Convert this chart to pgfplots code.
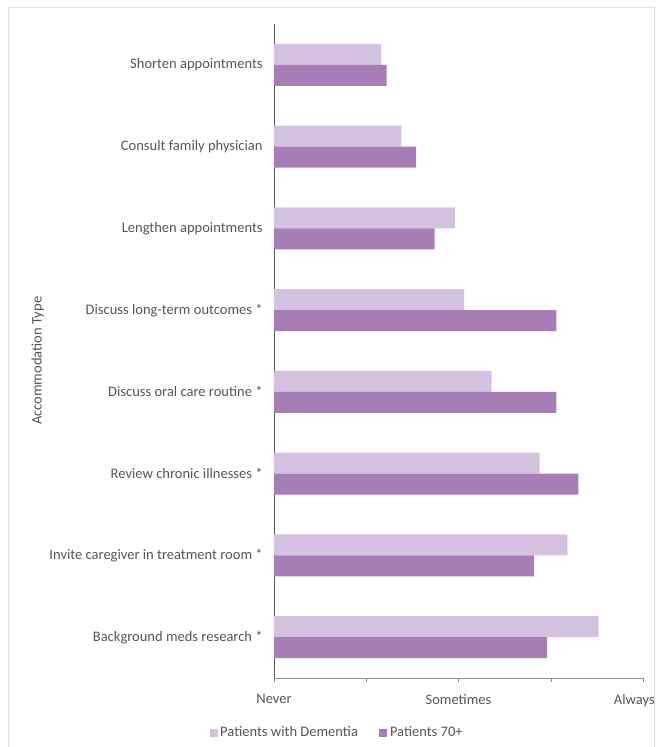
\documentclass[border=0pt]{standalone}
\usepackage{pgfplots}
\pgfplotsset{compat=1.18}
\usepackage{fontspec}
\setmainfont{Carlito}
\definecolor{lightp}{HTML}{D4C1DF}
\definecolor{darkp}{HTML}{A77DB8}
\definecolor{txt}{HTML}{555555}
\pgfplotstableread{
y light dark
0 2.76 2.48
1 2.59 2.41
2 2.44 2.65
3 2.18 2.53
4 2.03 2.53
5 1.98 1.87
6 1.69 1.77
7 1.58 1.61
}\datatab
\begin{document}
\begin{tikzpicture}
\path[use as bounding box] (-205.5pt,-51.75pt) rectangle (290.25pt,508.5pt);
\draw[black!12] (-199.5pt,-60pt) -- (-199.5pt,503.25pt) -- (285pt,503.25pt) -- (285pt,-60pt);
\begin{axis}[
  at={(0,0)}, anchor=south west,
  scale only axis, width=276.75pt, height=490.5pt,
  xmin=1, xmax=3, ymin=-0.5, ymax=7.5,
  axis x line*=bottom, axis y line*=left,
  x axis line style={-, draw=black!45},
  y axis line style={-, draw=black!65},
  xtick={1,2,3}, xticklabels={Never,Sometimes,{\makebox[0pt]{\hspace*{-13pt}Always}}},
  minor xtick={1.5,2.5},
  tick align=outside,
  major tick length=3pt, minor tick length=3pt,
  xtick style={draw=black!45},
  minor tick style={draw=black!45},
  ytick={0,...,7},
  yticklabels={Background meds research *, Invite caregiver in treatment room *, Review chronic illnesses *, Discuss oral care routine *, Discuss long-term outcomes *, Lengthen appointments, Consult family physician, Shorten appointments},
  ytick style={draw=none},
  yticklabel style={xshift=-2pt},
  xticklabel style={yshift=-5.5pt},
  ticklabel style={font=\fontsize{10.9}{12}\selectfont, text=txt},
  ylabel={Accommodation Type},
  ylabel style={font=\fontsize{10.9}{12}\selectfont, text=txt, at={(rel axis cs:-0.64,0.485)}, anchor=center},
  xbar, bar width=15.75pt,
  legend columns=2,
  legend style={draw=none, fill=none, at={(0.172,-0.084)}, anchor=center,
    font=\fontsize{10.9}{12}\selectfont, text=txt,
    /tikz/every even column/.append style={column sep=14pt}},
  legend image code/.code={\fill[#1] (0pt,-3pt) rectangle (6pt,3pt);},
]
\addplot[draw=none, fill=lightp, bar shift=7.875pt] table[x=light, y=y] {\datatab};
\addplot[draw=none, fill=darkp, bar shift=-7.875pt] table[x=dark, y=y] {\datatab};
\legend{Patients with Dementia, Patients 70+}
\end{axis}
\end{tikzpicture}
\end{document}
